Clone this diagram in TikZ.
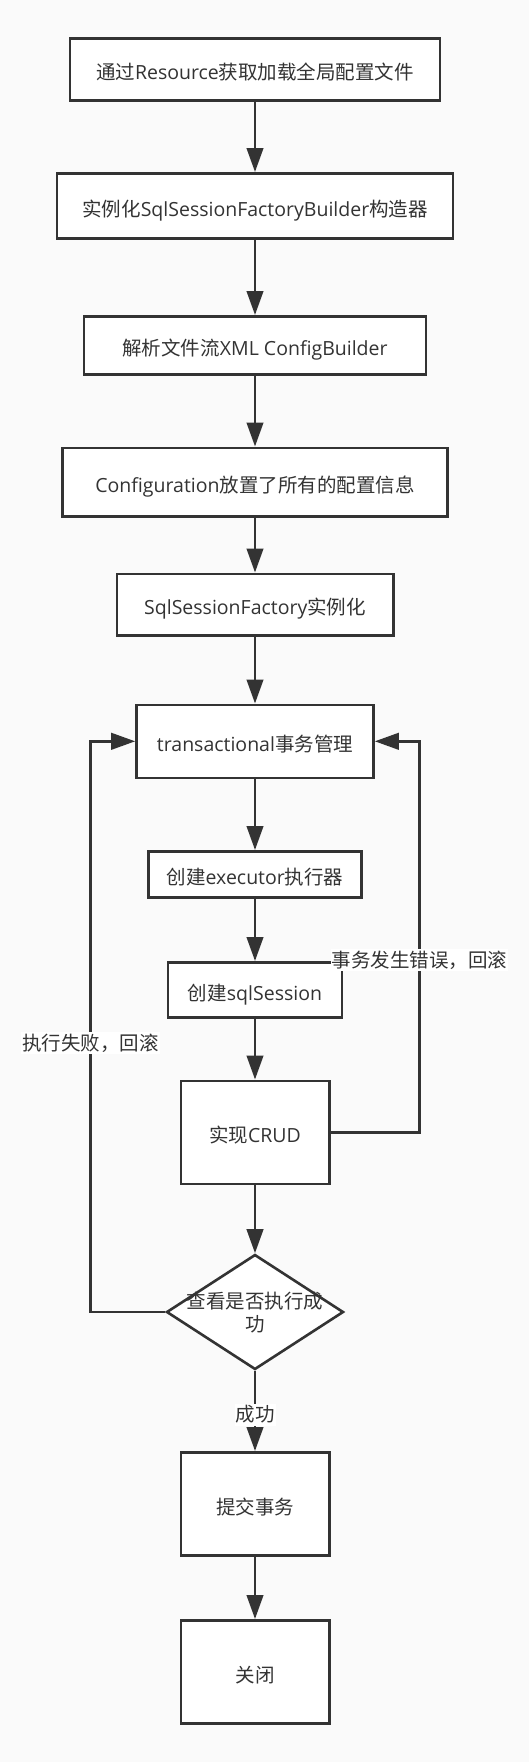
\documentclass[tikz,border=0pt]{standalone}
\usepackage{fontspec}
\setmainfont{Open Sans}
\newfontfamily\cjkfont{Noto Sans CJK SC}
\newcommand\zh[1]{{\cjkfont #1}}
\usetikzlibrary{arrows.meta,shapes.geometric}
\definecolor{ink}{HTML}{333333}
\definecolor{bg}{HTML}{FAFAFA}
\begin{document}
\begin{tikzpicture}[x=1pt,y=-1pt,
  txt/.style={text=ink, font=\fontsize{19.5pt}{23pt}\selectfont},
  boxstyle/.style={txt, draw=ink, fill=white, line width=2.6pt, inner sep=0pt, text height=23pt, text depth=3pt},
  arr/.style={draw=ink, line width=2.6pt, -{Triangle[length=24pt,width=16.5pt]}},
  lbl/.style={txt, fill=white, inner sep=1pt, text height=17pt, text depth=3pt}]
\useasboundingbox[fill=bg] (0,0) rectangle (529,1762);
\node[boxstyle, minimum width=370pt, minimum height=62pt] (b1) at (255,69.3) {\zh{通过}Resource\zh{获取加载全局配置文件}};
\node[boxstyle, minimum width=396pt, minimum height=65.4pt] (b2) at (255,206) {\zh{实例化}SqlSessionFactoryBuilder\zh{构造器}};
\node[boxstyle, minimum width=342pt, minimum height=58.4pt] (b3) at (255,345.5) {\zh{解析文件流}XML ConfigBuilder};
\node[boxstyle, minimum width=385pt, minimum height=68.4pt] (b4) at (255,482) {Configuration\zh{放置了所有的配置信息}};
\node[boxstyle, minimum width=276.4pt, minimum height=61.4pt] (b5) at (255,604.5) {SqlSessionFactory\zh{实例化}};
\node[boxstyle, minimum width=237pt, minimum height=73pt] (b6) at (255,741.3) {transactional\zh{事务管理}};
\node[boxstyle, minimum width=212.7pt, minimum height=46.4pt] (b7) at (255,874.5) {\zh{创建}executor\zh{执行器}};
\node[boxstyle, minimum width=173.7pt, minimum height=55.4pt] (b8) at (255,990) {\zh{创建}sqlSession};
\node[boxstyle, minimum width=148.4pt, minimum height=103pt] (b9) at (255,1132.3) {\zh{实现}CRUD};
\node[diamond, draw=ink, fill=white, line width=2.6pt, inner sep=0pt, minimum width=177pt, minimum height=115pt] (dia) at (255,1312) {};
\node[txt, align=center, inner sep=0pt] (diat) at (255,1313) {\zh{查看是否执行成}\\\zh{功}};
\node[boxstyle, minimum width=148.4pt, minimum height=103.4pt] (b10) at (255,1504) {\zh{提交事务}};
\node[boxstyle, minimum width=148.4pt, minimum height=103.4pt] (b11) at (255,1672) {\zh{关闭}};
\coordinate (lx) at (90.5,0);
\coordinate (rx) at (419.4,0);
\draw[arr] (b1) -- (b2);
\draw[arr] (b2) -- (b3);
\draw[arr] (b3) -- (b4);
\draw[arr] (b4) -- (b5);
\draw[arr] (b5) -- (b6);
\draw[arr] (b6) -- (b7);
\draw[arr] (b7) -- (b8);
\draw[arr] (b8) -- (b9);
\draw[arr] (b9) -- (dia);
\draw[arr] (dia.south) -- node[lbl, pos=0.55] (l3) {\zh{成功}} (b10);
\draw[arr] (b10) -- (b11);
\draw[arr] (b9.east) -- (b9.east -| rx) |- (b6.east);
\draw[arr] (dia.west) -- (dia.west -| lx) |- (b6.west);
\node[lbl] (l1) at (419.4,960) {\zh{事务发生错误，回滚}};
\node[lbl] (l2) at (90.5,1043) {\zh{执行失败，回滚}};
\end{tikzpicture}
\end{document}
